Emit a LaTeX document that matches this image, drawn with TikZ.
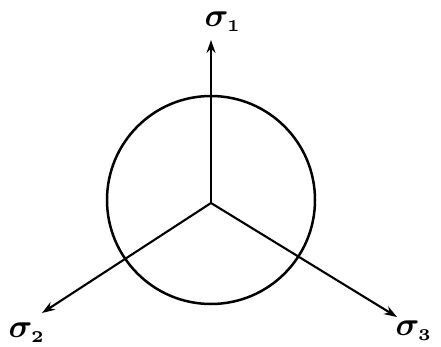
\documentclass[tikz,border=0pt]{standalone}
\usepackage{amsmath,bm}
\usetikzlibrary{arrows.meta}
\newcommand{\sig}[1]{\scalebox{3.3}{$\bm{\sigma}_{\scriptscriptstyle\mathbf{#1}}$}}
\begin{document}
\begin{tikzpicture}[x=1pt,y=-1pt,
  axis/.style={line width=2.1pt,-{Stealth[length=13pt,width=9pt]}},
  lbl/.style={inner sep=0pt}]
\useasboundingbox (0,0) rectangle (441,347);
\coordinate (o) at (211,203);
\node[draw,circle,line width=2.5pt,minimum size=208pt,inner sep=0pt] (c) at (211,200) {};
\coordinate (t1) at (211,40);
\coordinate (t2) at (42,313);
\coordinate (t3) at (397,317);
\draw[axis] (o) -- (t1);
\draw[axis] (o) -- (t2);
\draw[axis] (o) -- (t3);
\node[lbl] (s1) at (223,22) {\sig{1}};
\node[lbl] (s2) at (27,333) {\sig{2}};
\node[lbl] (s3) at (414,331) {\sig{3}};
\end{tikzpicture}
\end{document}
